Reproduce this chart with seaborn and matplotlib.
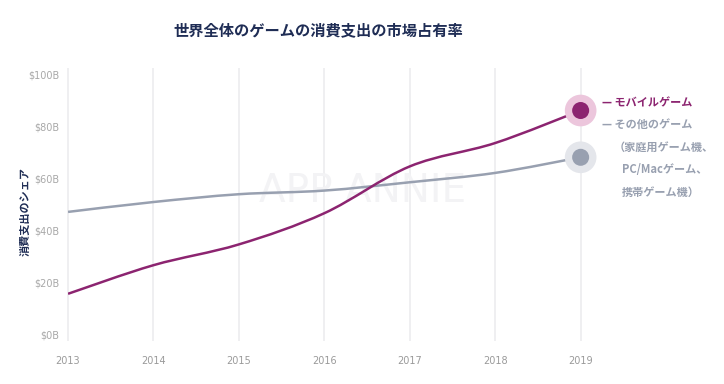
import numpy as np
import matplotlib.pyplot as plt
import seaborn as sns
import pandas as pd
from matplotlib.path import Path
from matplotlib.patches import PathPatch

# Data (billions of USD)
years = [2013, 2014, 2015, 2016, 2017, 2018, 2019]
mobile = [15.5, 26.5, 34.5, 46.5, 64.5, 73.5, 86.0]
other = [47.0, 50.8, 53.8, 55.2, 58.4, 62.0, 68.0]
ytick_vals = [0, 20, 40, 60, 80, 100]
ytick_labels = ["$0B", "$20B", "$40B", "$60B", "$80B", "$100B"]

title = "世界全体のゲームの消費支出の市場占有率"
ylabel = "消費支出のシェア"
legend_lines = ["— モバイルゲーム", "— その他のゲーム", "（家庭用ゲーム機、", "PC/Macゲーム、", "携帯ゲーム機）"]

mobile_color = "#8c2470"
other_color = "#98a0b0"
navy = "#1f2d55"

sns.set_style("white")
plt.rcParams['font.family'] = ['Noto Sans CJK JP', 'DejaVu Sans']

df = pd.DataFrame({"year": years, "mobile": mobile, "other": other})


def smooth_path(xs, ys):
    # Catmull-Rom segments converted to cubic Bezier control points
    xs = np.asarray(xs, float)
    ys = np.asarray(ys, float)
    pts = np.column_stack([xs, ys])
    verts = [pts[0]]
    codes = [Path.MOVETO]
    n = len(pts)
    for i in range(n - 1):
        p0 = pts[i - 1] if i > 0 else pts[i]
        p1 = pts[i]
        p2 = pts[i + 1]
        p3 = pts[i + 2] if i + 2 < n else pts[i + 1]
        c1 = p1 + (p2 - p0) / 6.0
        c2 = p2 - (p3 - p1) / 6.0
        verts += [c1, c2, p2]
        codes += [Path.CURVE4] * 3
    return Path(verts, codes)


fig = plt.figure(figsize=(7.24, 3.84), dpi=100)
ax = fig.add_axes([0.094, 0.130, 0.708, 0.677])
ax.set_xlim(2013, 2019)
ax.set_ylim(0, 100)

# vertical grid lines at each year
ax.vlines(years, -2.5, 102.5, color="#ececef", lw=1.2, clip_on=False, zorder=0)

# watermark
ax.text(2016.45, 55, "APP ANNIE", fontsize=28, color="#f3f3f5", ha="center",
        va="center", family="DejaVu Sans", zorder=0.5)

ax.add_patch(PathPatch(smooth_path(df["year"], df["other"]), fill=False,
                       edgecolor=other_color, lw=1.8, zorder=2))
ax.add_patch(PathPatch(smooth_path(df["year"], df["mobile"]), fill=False,
                       edgecolor=mobile_color, lw=1.8, zorder=3))

# end-point markers with halos
end = df.iloc[[-1]]
sns.scatterplot(data=end, x="year", y="mobile", s=520, color="#ecc6dc", edgecolor="none",
                ax=ax, zorder=4, clip_on=False, legend=False)
sns.scatterplot(data=end, x="year", y="mobile", s=150, color=mobile_color, edgecolor="none",
                ax=ax, zorder=5, clip_on=False, legend=False)
sns.scatterplot(data=end, x="year", y="other", s=520, color="#e4e6eb", edgecolor="none",
                ax=ax, zorder=4, clip_on=False, legend=False)
sns.scatterplot(data=end, x="year", y="other", s=150, color=other_color, edgecolor="none",
                ax=ax, zorder=5, clip_on=False, legend=False)

ax.set_xticks(years)
ax.set_xticklabels([str(y) for y in years], fontsize=7, color="#9a9a9a",
                   family="DejaVu Sans")
ax.set_yticks(ytick_vals)
ax.set_yticklabels(ytick_labels, fontsize=7, color="#a8a8a8", family="DejaVu Sans")
ax.tick_params(axis="x", length=0, pad=16)
ax.tick_params(axis="y", length=0, pad=6)
for s in ax.spines.values():
    s.set_visible(False)
ax.set_xlabel("")
ax.set_ylabel("")
fig.text(25 / 724, 1 - 212 / 384, ylabel, fontsize=8, color=navy, fontweight="bold",
         rotation=90, ha="center", va="center")

fig.text(0.44, 0.922, title, fontsize=11, fontweight="bold", color=navy,
         ha="center", va="center")

# legend text to the right of the plot
legend_y = [103, 124, 147, 170, 192]
legend_x = [602, 602, 614, 622, 622]
legend_c = [mobile_color, other_color, other_color, other_color, other_color]
for txt, yy, xx, c in zip(legend_lines, legend_y, legend_x, legend_c):
    fig.text(xx / 724, 1 - yy / 384, txt, fontsize=8, color=c,
             fontweight="bold", ha="left", va="center")

fig.savefig("out.png", dpi=100, facecolor="white")
